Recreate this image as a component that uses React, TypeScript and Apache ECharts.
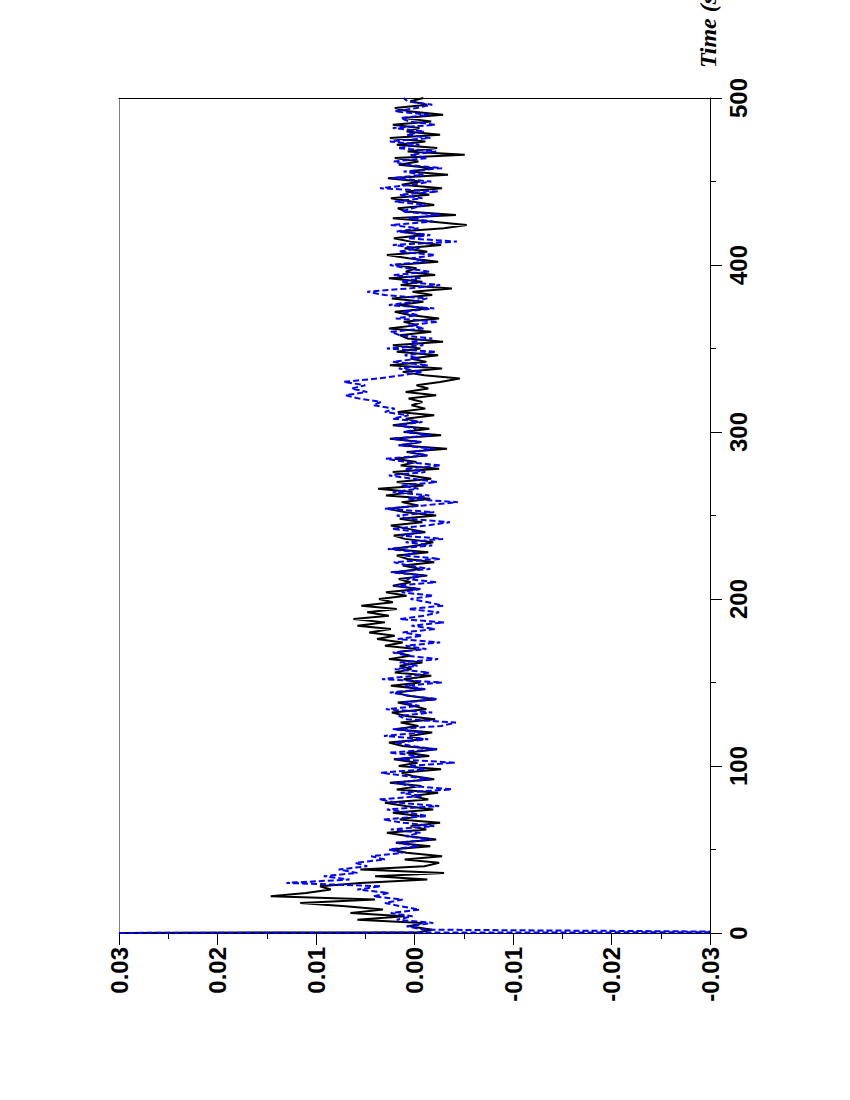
import React, { useEffect, useRef } from "react";
import * as echarts from "echarts";

// Sample times (s) of the regular record after the initial spike
const TIME_STEP = 2;
const sampleTimes: number[] = Array.from({ length: 250 }, (_, i) => TIME_STEP + TIME_STEP * i);

// Initial impulse at t = 0
const spikeTimes = [0, 0.5];
const blackSpike = [0.03, -0.0005];
const blueSpike = [0.04, -0.04];

// Black (solid) record, t = 2 .. 500 s
const blackValues = [
  -0.0018, 0.0005, -0.0008, 0.0058, 0.001, 0.0065, 0.0032, 0.007, 0.0116,
  0.004, 0.0146, 0.011, 0.0085, 0.0096, 0.0055, -0.0013, 0.004, -0.003, 0.0055,
  -0.001, -0.0025, 0.001, -0.0028, 0.0008, 0.0024, -0.0016, 0.0019, -0.0022, 0.0006,
  0.0028, -0.0012, 0.0004, -0.0026, 0.0015, -0.0005, 0.0022, -0.0019, 0.0009, 0.003,
  -0.0014, 0.0003, -0.0024, 0.0018, -0.0007, 0.0025, -0.002, 0.0002, 0.0013, -0.0027,
  0.0016, -0.0003, 0.0021, -0.0015, 0.0008, -0.0023, 0.0012, 0.0026, -0.0009, 0.0005,
  -0.0018, 0.002, -0.0004, 0.0014, -0.0021, 0.0009, 0.0023, -0.0012, 0.0001, 0.0017,
  -0.0022, 0.0007, 0.0019, -0.001, 0.0024, -0.0006, 0.0011, -0.0017, 0.002, 0.0003,
  0.0015, -0.0008, 0.0026, 0.0004, 0.0018, -0.0002, 0.003, 0.0012, 0.0038, 0.002,
  0.0046, 0.0024, 0.0058, 0.003, 0.0062, 0.0026, 0.0048, 0.0018, 0.0054, 0.0022,
  0.0036, 0.0008, 0.0029, -0.0005, 0.0022, 0.0004, 0.0016, -0.0013, 0.002, -0.0006,
  0.0012, -0.002, 0.0007, 0.0018, -0.0014, 0.0023, -0.0003, -0.0019, 0.001, 0.0021,
  -0.0011, 0.0006, 0.0024, -0.0008, 0.0015, -0.0022, 0.0009, 0.0027, -0.0004, 0.0013,
  -0.0016, 0.0029, 0.0002, 0.0037, -0.0009, 0.0018, -0.0017, 0.0005, 0.0022, -0.0025,
  0.0014, -0.0002, 0.002, -0.0013, 0.0008, -0.0033, 0.0016, -0.0007, 0.0025, -0.0027,
  0.0011, -0.0015, 0.0022, -0.0004, 0.0009, -0.002, 0.0017, -0.0011, 0.0003, -0.0008,
  0.0006, -0.0022, 0.0009, -0.0014, -0.0002, -0.0026, -0.0046, -0.001, 0.0012, -0.0028,
  0.0025, -0.0012, 0.0004, -0.0024, 0.0018, -0.0006, 0.0022, -0.0029, 0.0007, 0.0015,
  -0.0017, 0.0026, -0.0003, 0.0011, -0.0025, 0.0005, 0.002, -0.0014, 0.0016, -0.0009,
  0.0023, -0.0018, 0.0002, -0.0038, 0.0014, -0.0008, 0.0026, -0.0021, 0.0009, -0.0002,
  0.0019, -0.0024, 0.0006, 0.0028, -0.0013, 0.001, -0.0027, 0.0004, 0.0021, -0.001,
  0.0015, -0.003, -0.0053, -0.0016, 0.0022, -0.0042, 0.0008, 0.0017, -0.002, 0.0003,
  0.0024, -0.0015, 0.0009, -0.0028, 0.0013, -0.0006, 0.0027, -0.0034, 0.0005, -0.0019,
  0.0016, -0.0004, 0.002, -0.0051, 0.0007, -0.0023, 0.0018, -0.0011, 0.0025, -0.0026,
  0.0008, -0.0005, 0.0022, -0.0017, 0.0012, -0.0029, 0.0006, 0.002, -0.0013, 0.0004,
  -0.0009,
];

// Blue (dashed) record, t = 2 .. 500 s
const blueValues = [
  -0.001, 0.0008, -0.0019, 0.0018, 0.0002, 0.0024, -0.0005, 0.0014, 0.003,
  0.0012, 0.0042, 0.0026, 0.0058, 0.0034, 0.013, 0.0066, 0.0092, 0.0058, 0.0077,
  0.0048, 0.006, 0.003, 0.0044, 0.0012, 0.0026, -0.0004, 0.0018, -0.0018, 0.0009,
  -0.0006, 0.0024, -0.002, 0.0011, 0.0032, -0.0013, 0.0005, 0.0028, -0.0025, 0.0017,
  0.0036, -0.0008, 0.0014, -0.0038, 0.0002, 0.0021, -0.0016, 0.0009, 0.0034, -0.0011,
  0.0006, -0.0041, 0.0018, -0.0007, 0.0026, -0.0022, 0.0003, 0.0019, -0.0014, 0.0031,
  -0.0009, 0.0022, -0.0027, -0.0042, 0.0008, 0.0016, -0.0018, 0.0029, -0.0005, 0.0012,
  -0.0023, 0.0004, 0.0025, -0.0011, 0.001, -0.0028, 0.0033, 0.0001, -0.0015, 0.002,
  -0.0003, 0.0015, -0.0024, 0.0007, 0.0022, -0.0012, 0.0009, -0.0026, 0.0017, -0.0008,
  0.0012, -0.0021, 0.0003, -0.003, 0.0015, -0.001, -0.0025, 0.0006, -0.0029, -0.0014,
  0.0004, -0.0019, 0.0013, -0.0006, 0.002, -0.0022, 0.0008, -0.001, 0.0024, -0.0016,
  0.0005, 0.0021, -0.0026, 0.001, -0.0003, 0.0027, -0.0018, 0.0009, -0.0029, 0.0014,
  -0.0007, 0.0023, -0.0012, -0.0036, 0.0006, 0.0018, -0.002, 0.003, -0.0009, -0.0044,
  0.0007, -0.0015, 0.0022, -0.0004, 0.0013, -0.0023, 0.0002, 0.0026, -0.0011, 0.001,
  -0.0027, 0.0008, 0.0029, -0.0013, 0.0004, -0.002, 0.0016, -0.0006, 0.0023, -0.0017,
  0.0009, -0.0002, 0.0018, -0.0008, 0.0022, 0.0006, 0.003, 0.002, 0.0042, 0.0034,
  0.0056, 0.007, 0.0048, 0.0064, 0.005, 0.0072, 0.0038, 0.0012, -0.0008, 0.0016,
  -0.0014, 0.0022, -0.0005, 0.001, -0.0022, 0.0028, -0.0009, 0.0004, -0.0018, 0.0015,
  0.0024, -0.001, 0.0006, -0.0024, 0.0019, -0.0003, 0.0012, -0.002, 0.0026, 0.0001,
  -0.0013, 0.003, 0.0048, 0.0005, -0.0026, 0.0014, -0.0006, 0.0021, -0.0015, 0.0008,
  0.0025, -0.0012, 0.0003, -0.0021, 0.0016, -0.0005, 0.0022, -0.0043, 0.0007, -0.0016,
  0.0018, -0.0004, 0.0024, -0.0019, 0.0006, -0.0026, 0.0013, 0.0002, -0.0011, 0.002,
  -0.0008, 0.0015, -0.0024, 0.0035, 0.0004, -0.0017, 0.0023, -0.0009, 0.0011, -0.0028,
  0.0009, 0.0021, -0.0013, 0.0004, -0.0022, 0.0017, -0.0005, 0.0025, -0.0016, 0.0008,
  -0.001, 0.0022, -0.0021, 0.0006, 0.0014, -0.0015, 0.002, -0.0002, -0.0018, 0.0007,
  0.0011,
];

// Axis ticks
const valueTicks = { min: -0.03, max: 0.03, interval: 0.01 };
const timeTicks = { min: 0, max: 500, interval: 100 };
const axisTitle = "Time (s)";

function buildSeriesData(spike: number[], values: number[]) {
  const data: number[][] = spike.map((v, i) => [v, spikeTimes[i]]);
  values.forEach((v, i) => data.push([v, sampleTimes[i]]));
  return data;
}

const labelFont = {
  fontFamily: "'Liberation Sans', Arial, sans-serif",
  fontWeight: "bold" as const,
  fontSize: 24,
  color: "#000",
};

export default function App() {
  const ref = useRef<HTMLDivElement>(null);

  useEffect(() => {
    if (!ref.current) return;
    const chart = echarts.init(ref.current, undefined, { renderer: "svg" });
    chart.setOption({
      animation: false,
      backgroundColor: "#fff",
      grid: { left: 119, right: 140, top: 98, bottom: 167, containLabel: false },
      xAxis: [
        {
          type: "value",
          position: "bottom",
          inverse: true,
          min: valueTicks.min,
          max: valueTicks.max,
          interval: valueTicks.interval,
          axisLine: { show: true, lineStyle: { color: "#000", width: 1 } },
          axisTick: { show: true, inside: false, length: 12, lineStyle: { color: "#000" } },
          minorTick: { show: true, splitNumber: 2, length: 6, lineStyle: { color: "#000" } },
          splitLine: { show: false },
          axisLabel: {
            ...labelFont,
            rotate: 90,
            margin: 14,
            formatter: (v: number) => (Math.abs(v) < 1e-9 ? "0.00" : v.toFixed(2)),
          },
        },
        {
          type: "value",
          position: "top",
          inverse: true,
          min: valueTicks.min,
          max: valueTicks.max,
          axisLine: { show: true, onZero: false, lineStyle: { color: "#000", width: 1 } },
          axisTick: { show: false },
          axisLabel: { show: false },
          splitLine: { show: false },
        },
      ],
      yAxis: [
        {
          type: "value",
          position: "right",
          min: timeTicks.min,
          max: timeTicks.max,
          interval: timeTicks.interval,
          axisLine: { show: true, onZero: false, lineStyle: { color: "#000", width: 1 } },
          axisTick: { show: true, inside: false, length: 12, lineStyle: { color: "#000" } },
          minorTick: { show: true, splitNumber: 2, length: 6, lineStyle: { color: "#000" } },
          splitLine: { show: false },
          axisLabel: { ...labelFont, rotate: 90, margin: 16 },
        },
        {
          type: "value",
          position: "left",
          min: timeTicks.min,
          max: timeTicks.max,
          axisLine: { show: true, onZero: false, lineStyle: { color: "#808080", width: 1 } },
          axisTick: { show: false },
          axisLabel: { show: false },
          splitLine: { show: false },
        },
      ],
      graphic: [
        {
          type: "text",
          x: 708,
          y: 68,
          rotation: Math.PI / 2,
          style: {
            text: axisTitle,
            font: "italic bold 24px 'Liberation Serif', 'Times New Roman', serif",
            fill: "#000",
            align: "left",
            verticalAlign: "middle",
          },
        },
      ],
      series: [
        {
          name: "black",
          type: "line",
          xAxisIndex: 0,
          yAxisIndex: 0,
          data: buildSeriesData(blackSpike, blackValues),
          showSymbol: false,
          symbol: "none",
          clip: true,
          lineStyle: { color: "#000", width: 2 },
          z: 2,
        },
        {
          name: "blue",
          type: "line",
          xAxisIndex: 0,
          yAxisIndex: 0,
          data: buildSeriesData(blueSpike, blueValues),
          showSymbol: false,
          symbol: "none",
          clip: true,
          lineStyle: { color: "#0000ff", width: 2, type: [6, 3] },
          z: 3,
        },
      ],
    });
    return () => chart.dispose();
  }, []);

  return (
    <div
      ref={ref}
      style={{ position: "fixed", left: 0, top: 0, width: 850, height: 1100, background: "#fff" }}
    />
  );
}
